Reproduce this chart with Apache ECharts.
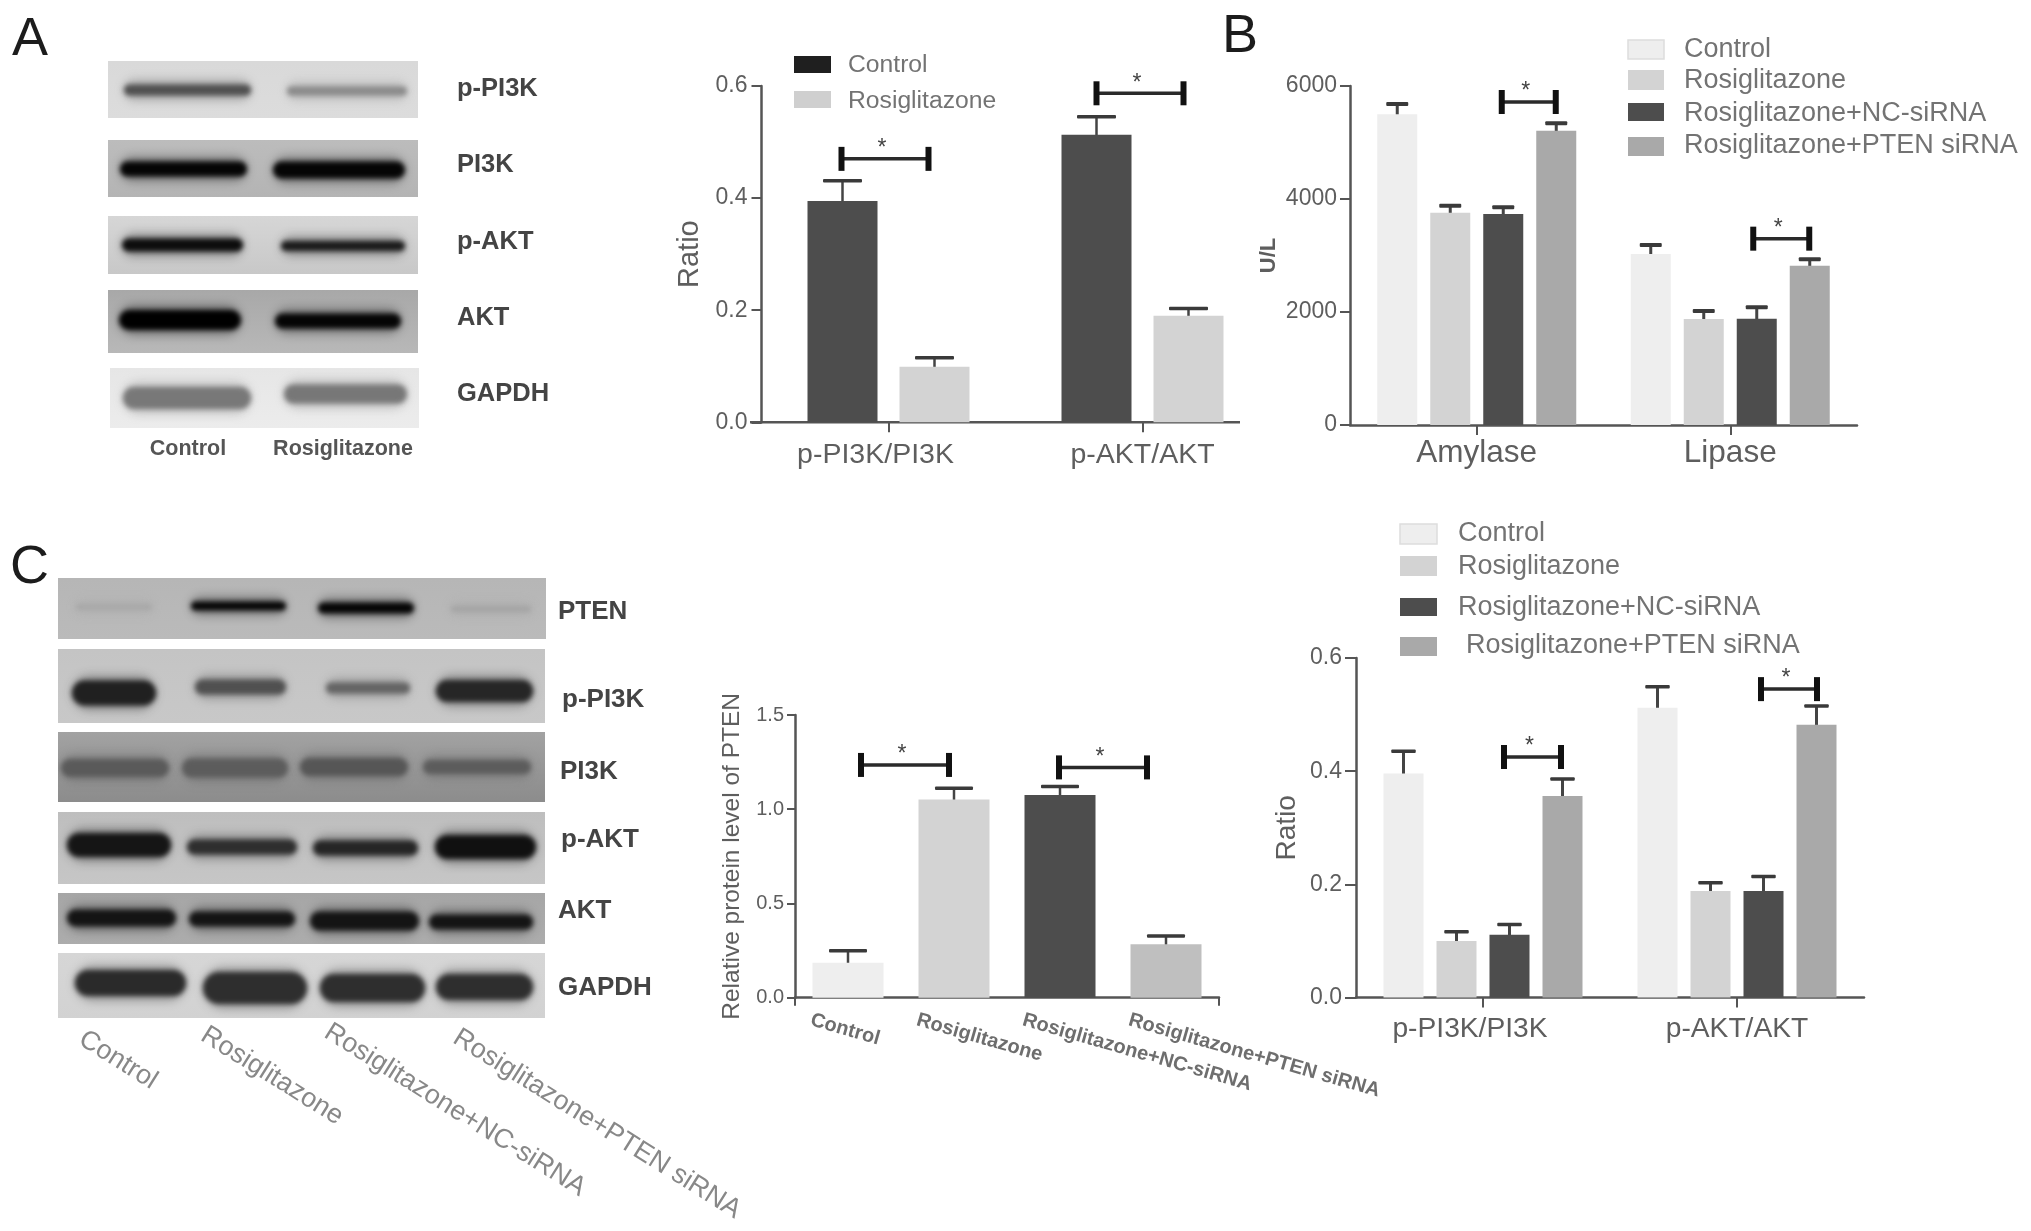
<!DOCTYPE html>
<html>
<head>
<meta charset="utf-8">
<style>html,body{margin:0;padding:0;background:#fff}#c{width:2031px;height:1231px;filter:blur(0.5px)}</style>
<script src="https://cdn.jsdelivr.net/npm/echarts@6/dist/echarts.min.js"></script>
</head>
<body>
<div id="c"></div>
<script>
// ---------- data ----------
const catsA = ['p-PI3K/PI3K', 'p-AKT/AKT'];
const namesA = ['Control', 'Rosiglitazone'];
const controlA = [0.395, 0.513];
const rosiA = [0.099, 0.190];
const controlTopA = [0.431, 0.545];
const rosiTopA = [0.115, 0.203];
const sigA = [0.470, 0.587];

const catsB = ['Amylase', 'Lipase'];
const namesB = ['Control', 'Rosiglitazone', 'Rosiglitazone+NC-siRNA', 'Rosiglitazone+PTEN siRNA'];
const controlB = [5498, 3027];
const rosiB = [3758, 1876];
const ncB = [3735, 1882];
const ptenB = [5209, 2820];
const controlTopB = [5681, 3186];
const rosiTopB = [3882, 2018];
const ncTopB = [3852, 2083];
const ptenTopB = [5339, 2932];
const sigB = [5717, 3298];

const catsC = ['Control', 'Rosiglitazone', 'Rosiglitazone+NC-siRNA', 'Rosiglitazone+PTEN siRNA'];
const ptenLevel = [0.186, 1.052, 1.075, 0.283];
const ptenLevelTop = [0.249, 1.111, 1.120, 0.327];
const sigC = [1.235, 1.222];

const catsD = ['p-PI3K/PI3K', 'p-AKT/AKT'];
const controlD = [0.396, 0.512];
const rosiD = [0.100, 0.188];
const ncD = [0.111, 0.188];
const ptenD = [0.356, 0.482];
const controlTopD = [0.435, 0.549];
const rosiTopD = [0.116, 0.203];
const ncTopD = [0.129, 0.214];
const ptenTopD = [0.386, 0.515];
const sigD = [0.425, 0.545];

// ---------- styles ----------
const FONT = '"Liberation Sans", Arial, sans-serif';
const C_CTRL = '#eeeeee', C_ROSI = '#d3d3d3', C_NC = '#4d4d4d', C_PTEN = '#a9a9a9';
const AXIS = '#555555', TEXT = '#5e5e5e', LEG = '#737373';

// ---------- blots, painted on a canvas used as a picture ----------
function paintBlots() {
  const cv = document.createElement('canvas');
  cv.width = 2031; cv.height = 1231;
  const g = cv.getContext('2d');
  const rows = [
    // panel A
    {r:[108,61,310,57], bg:['#d9d9d9','#dcdcdc'], b:[[124,251,90,11,'#505050'],[287,407,91,9,'#8a8a8a']]},
    {r:[108,140,310,57], bg:['#bcbcbc','#b4b4b4'], b:[[120,247,169,15,'#050505'],[273,405,170,17,'#050505']]},
    {r:[108,216,310,58], bg:['#d6d6d6','#c8c8c8'], b:[[122,243,245,13,'#0c0c0c'],[281,405,246,10,'#1a1a1a']]},
    {r:[108,290,310,63], bg:['#a8a8a8','#b8b8b8'], b:[[119,241,320,20,'#000000'],[275,401,321,15,'#050505']]},
    {r:[110,368,309,60], bg:['#e6e6e6','#ececec'], b:[[123,251,398,22,'#787878'],[284,407,394,19,'#777777']]},
    // panel C
    {r:[58,578,488,61], bg:['#b6b6b6','#bababa'], b:[[76,152,607,5,'#a6a6a6'],[191,286,606,9,'#050505'],[318,414,608,11,'#050505'],[451,531,609,5,'#a2a2a2']]},
    {r:[58,649,487,74], bg:['#c4c4c4','#c8c8c8'], b:[[72,156,693,25,'#202020'],[195,286,687,15,'#505050'],[326,410,688,11,'#646464'],[436,533,691,22,'#262626']]},
    {r:[58,732,487,70], bg:['#a2a2a2','#8c8c8c'], b:[[61,169,768,18,'#5a5a5a'],[182,288,768,19,'#5c5c5c'],[300,408,767,18,'#565656'],[423,531,767,14,'#5c5c5c']]},
    {r:[58,812,487,72], bg:['#bebebe','#c6c6c6'], b:[[67,171,845,24,'#151515'],[187,297,847,15,'#2e2e2e'],[313,418,848,15,'#252525'],[435,536,847,24,'#101010']]},
    {r:[58,893,487,51], bg:['#a6a6a6','#acacac'], b:[[67,176,918,17,'#141414'],[189,295,919,15,'#141414'],[310,419,921,19,'#141414'],[429,533,922,15,'#141414']]},
    {r:[58,953,487,65], bg:['#d6d6d6','#d2d2d2'], b:[[75,186,983,26,'#2a2a2a'],[203,307,988,32,'#2e2e2e'],[320,425,988,28,'#2e2e2e'],[436,533,987,26,'#2e2e2e']]}
  ];
  rows.forEach(row => {
    const [x, y, w, h] = row.r;
    g.save();
    g.beginPath(); g.rect(x, y, w, h); g.clip();
    const lg = g.createLinearGradient(0, y, 0, y + h);
    lg.addColorStop(0, row.bg[0]); lg.addColorStop(1, row.bg[1]);
    g.fillStyle = lg; g.fillRect(x, y, w, h);
    const band = (b, grow, blur, alpha) => {
      const t = b[3] + grow;
      g.filter = 'blur(' + blur + 'px)';
      g.globalAlpha = alpha;
      g.fillStyle = b[4];
      g.beginPath();
      g.roundRect(b[0], b[2] - t / 2, b[1] - b[0], t, t / 2);
      g.fill();
    };
    row.b.forEach(b => { band(b, 10, 5, 0.35); band(b, 0, 2.5, 1); });
    g.restore();
  });
  return cv;
}

// ---------- helpers ----------
function gridOf(left, top, width, height) { return {left, top, width, height, containLabel:false}; }

function xAxisOf(i, data, fs, margin, showLine, tickLen) {
  return {
    type:'category', gridIndex:i, data,
    axisLine:{show:showLine, lineStyle:{color:AXIS, width:2.5}},
    axisTick:{show:true, alignWithLabel:true, length:tickLen, lineStyle:{color:AXIS, width:2}},
    axisLabel:{fontSize:fs, color:TEXT, margin, fontFamily:FONT, interval:0}
  };
}
function yAxisOf(i, max, interval, name, fs, nameFs, nameGap, nameWeight, fmt, margin, tickLen) {
  return {
    type:'value', gridIndex:i, min:0, max, interval, name, nameLocation:'middle', nameGap, nameRotate:90,
    nameMoveOverlap:false,
    nameTextStyle:{fontSize:nameFs, color:TEXT, fontFamily:FONT, fontWeight:nameWeight},
    splitLine:{show:false},
    axisLine:{show:true, lineStyle:{color:AXIS, width:2.5}},
    axisTick:{show:true, length:tickLen, lineStyle:{color:AXIS, width:2}},
    axisLabel:{fontSize:fs, color:TEXT, margin, fontFamily:FONT, formatter:fmt}
  };
}
function barSeries(i, name, data, color, barWidth, barGap) {
  return {type:'bar', name, xAxisIndex:i, yAxisIndex:i, data, barWidth, barGap, itemStyle:{color}, silent:true};
}
// error bars: each point is [category, mean, top]
function errSeries(i, tops, means, offset, capW, capT, stemT) {
  return {
    type:'custom', xAxisIndex:i, yAxisIndex:i, silent:true, clip:false,
    data: tops.map((t, k) => [k, means[k], t]),
    renderItem(p, api) {
      const a = api.coord([api.value(0), api.value(1)]);
      const b = api.coord([api.value(0), api.value(2)]);
      const x = a[0] + offset;
      return {type:'group', children:[
        {type:'rect', shape:{x:x - stemT / 2, y:b[1], width:stemT, height:a[1] - b[1] + 3}, style:{fill:'#444444'}},
        {type:'rect', shape:{x:x - capW / 2, y:b[1] - capT / 2, width:capW, height:capT, r:1}, style:{fill:'#3a3a3a'}}
      ]};
    }
  };
}
// significance bracket: value in the axis scale, horizontal extent from layout
function sigSeries(i, cats, vals, extents, capH) {
  return {
    type:'custom', xAxisIndex:i, yAxisIndex:i, silent:true, clip:false,
    data: vals.map((v, k) => [cats[k], v, k]),
    renderItem(p, api) {
      const c = api.coord([api.value(0), api.value(1)]);
      const e = extents[api.value(2)];
      const l = c[0] + e[0], r = c[0] + e[1], y = c[1];
      return {type:'group', children:[
        {type:'rect', shape:{x:l, y:y - 1.75, width:r - l, height:3.5}, style:{fill:'#2a2a2a'}},
        {type:'rect', shape:{x:l - 3, y:y - capH / 2, width:6, height:capH}, style:{fill:'#111111'}},
        {type:'rect', shape:{x:r - 3, y:y - capH / 2, width:6, height:capH}, style:{fill:'#111111'}},
        {type:'text', x:(l + r) / 2 - 3, y:y - 10, style:{text:'*', fontSize:23, fill:'#444444', align:'center', verticalAlign:'middle', fontFamily:FONT}}
      ]};
    }
  };
}
// slanted category names of the PTEN panel, anchored on each category through the scale
function slantSeries(i, names, dx, dy, angle, fs) {
  return {
    type:'custom', xAxisIndex:i, yAxisIndex:i, silent:true, clip:false,
    data: names.map((n, k) => [k, 0]),
    renderItem(p, api) {
      const c = api.coord([api.value(0), 0]);
      return {type:'text', x:c[0] + dx, y:c[1] + dy, rotation:-angle * Math.PI / 180,
        style:{text:names[api.value(0)], fontSize:fs, fontWeight:'bold', fill:'#6e6e6e', align:'left', verticalAlign:'middle', fontFamily:FONT}};
    }
  };
}
function txt(text, x, y, fontSize, fill, extra) {
  const e = extra || {};
  return {type:'text', x, y, rotation:e.rot || 0, silent:true,
    style:{text, fontSize, fill, fontWeight:e.weight || 'normal', align:e.align || 'left', verticalAlign:'middle', fontFamily:FONT}};
}
function swatch(x, y, w, h, fill, stroke) {
  return {type:'rect', silent:true, shape:{x, y, width:w, height:h},
    style:{fill, stroke:stroke || null, lineWidth:stroke ? 1.5 : 0}};
}

// ---------- layout ----------
const W_A = 70, GAP_A = 22, W_B = 40, GAP_B = 13;
const off2 = [-(W_A + GAP_A) / 2, (W_A + GAP_A) / 2];
const off4 = [-1.5, -0.5, 0.5, 1.5].map(k => k * (W_B + GAP_B));

const grid = [
  gridOf(761.5, 86, 508, 336.3),
  gridOf(1350, 86, 507, 339),
  gridOf(795, 715, 424, 282.7),
  gridOf(1356, 658, 508, 339.5)
];
const xAxis = [
  xAxisOf(0, [{value:catsA[0], textStyle:{padding:[0,26,0,0]}}, catsA[1]], 28.5, 18, false, 10),
  xAxisOf(1, catsB, 31.5, 12, true, 10),
  xAxisOf(2, catsC, 12, 8, true, 8),
  xAxisOf(3, [{value:catsD[0], textStyle:{padding:[0,26,0,0]}}, catsD[1]], 28.2, 18, true, 10)
];
xAxis[2].axisLabel.show = false;
xAxis[2].axisTick = {show:true, alignWithLabel:false, interval:(idx) => idx === 2, length:8, lineStyle:{color:AXIS, width:2}};

const yAxis = [
  yAxisOf(0, 0.6, 0.2, 'Ratio', 23, 29, 57, 'normal', v => v.toFixed(1), 14, 10),
  yAxisOf(1, 6000, 2000, 'U/L', 23, 22, 70, 'bold', v => String(v), 13, 10),
  yAxisOf(2, 1.5, 0.5, 'Relative protein level of PTEN', 20, 24.5, 50, 'normal', v => v.toFixed(1), 11, 8),
  yAxisOf(3, 0.6, 0.2, 'Ratio', 23, 28, 55, 'normal', v => v.toFixed(1), 14, 11)
];

const series = [
  barSeries(0, namesA[0], controlA, C_NC, W_A, (GAP_A / W_A * 100) + '%'),
  barSeries(0, namesA[1], rosiA, C_ROSI, W_A, (GAP_A / W_A * 100) + '%'),
  errSeries(0, controlTopA, controlA, off2[0], 39, 3.5, 2.5),
  errSeries(0, rosiTopA, rosiA, off2[1], 39, 3.5, 2.5),
  sigSeries(0, [0, 1], sigA, [[-47, 40], [-46, 41]], 24),

  barSeries(1, namesB[0], controlB, C_CTRL, W_B, (GAP_B / W_B * 100) + '%'),
  barSeries(1, namesB[1], rosiB, C_ROSI, W_B, (GAP_B / W_B * 100) + '%'),
  barSeries(1, namesB[2], ncB, C_NC, W_B, (GAP_B / W_B * 100) + '%'),
  barSeries(1, namesB[3], ptenB, C_PTEN, W_B, (GAP_B / W_B * 100) + '%'),
  errSeries(1, controlTopB, controlB, off4[0], 22, 4, 3),
  errSeries(1, rosiTopB, rosiB, off4[1], 22, 4, 3),
  errSeries(1, ncTopB, ncB, off4[2], 22, 4, 3),
  errSeries(1, ptenTopB, ptenB, off4[3], 22, 4, 3),
  sigSeries(1, [0, 1], sigB, [[25, 79], [23, 79]], 24),

  {type:'bar', name:'PTEN', xAxisIndex:2, yAxisIndex:2, barWidth:71, silent:true,
    data: ptenLevel.map((v, k) => ({value:v, itemStyle:{color:[C_CTRL, C_ROSI, C_NC, '#bfbfbf'][k]}}))},
  errSeries(2, ptenLevelTop, ptenLevel, 0, 38, 3.5, 2.5),
  sigSeries(2, [0, 2], sigC, [[13, 101], [-1, 87]], 24),
  slantSeries(2, catsC, -37, 22, 16, 20),

  barSeries(3, namesB[0], controlD, C_CTRL, W_B, (GAP_B / W_B * 100) + '%'),
  barSeries(3, namesB[1], rosiD, C_ROSI, W_B, (GAP_B / W_B * 100) + '%'),
  barSeries(3, namesB[2], ncD, C_NC, W_B, (GAP_B / W_B * 100) + '%'),
  barSeries(3, namesB[3], ptenD, C_PTEN, W_B, (GAP_B / W_B * 100) + '%'),
  errSeries(3, controlTopD, controlD, off4[0], 24.5, 3.5, 3),
  errSeries(3, rosiTopD, rosiD, off4[1], 24.5, 3.5, 3),
  errSeries(3, ncTopD, ncD, off4[2], 24.5, 3.5, 3),
  errSeries(3, ptenTopD, ptenD, off4[3], 24.5, 3.5, 3),
  sigSeries(3, [0, 1], sigD, [[21, 78], [24, 80]], 24)
];

const DARK = '#444444', B = {weight:'bold'};
const slant = {rot:-32 * Math.PI / 180, align:'center'};
const graphic = [
  {type:'image', silent:true, style:{image:paintBlots(), x:0, y:0, width:2031, height:1231}},
  // axis line of the first panel stops short of the category bands
  {type:'line', silent:true, shape:{x1:750, y1:422.3, x2:1240, y2:422.3}, style:{stroke:AXIS, lineWidth:2.5}},
  // panel letters
  txt('A', 12, 40, 54, '#1c1c1c'), txt('B', 1222, 37, 54, '#1c1c1c'), txt('C', 10, 568, 54, '#1c1c1c'),
  // panel A blot labels
  txt('p-PI3K', 457, 89, 25.5, DARK, B), txt('PI3K', 457, 165, 25.5, DARK, B), txt('p-AKT', 457, 242, 25.5, DARK, B),
  txt('AKT', 457, 318, 25.5, DARK, B), txt('GAPDH', 457, 394, 25.5, DARK, B),
  txt('Control', 188, 449, 21.5, '#555555', {weight:'bold', align:'center'}),
  txt('Rosiglitazone', 343, 449, 21.5, '#555555', {weight:'bold', align:'center'}),
  // panel A legend
  swatch(794, 56, 37, 17, '#1f1f1f'), swatch(794, 91, 37, 17, '#cfcfcf'),
  txt(namesA[0], 848, 65, 24.7, LEG), txt(namesA[1], 848, 101, 24.7, LEG),
  // panel B legend
  swatch(1628, 40, 36, 19, C_CTRL, '#dddddd'), swatch(1628, 70, 36, 20, C_ROSI),
  swatch(1628, 103, 36, 18, C_NC), swatch(1628, 137, 36, 19, C_PTEN),
  txt(namesB[0], 1684, 50, 27, LEG), txt(namesB[1], 1684, 81, 27, LEG),
  txt(namesB[2], 1684, 114, 27, LEG), txt(namesB[3], 1684, 146, 27, LEG),
  // panel C blot labels
  txt('PTEN', 558, 612, 26, DARK, B), txt('p-PI3K', 562, 700, 26, DARK, B), txt('PI3K', 560, 772, 26, DARK, B),
  txt('p-AKT', 561, 840, 26, DARK, B), txt('AKT', 558, 911, 26, DARK, B), txt('GAPDH', 558, 988, 26, DARK, B),
  txt(catsC[0], 118, 1060, 27, '#888888', slant), txt(catsC[1], 272, 1076, 27, '#888888', slant),
  txt(catsC[2], 455, 1110, 27, '#888888', slant), txt(catsC[3], 597, 1124, 27, '#888888', slant),
  // panel D legend
  swatch(1400, 524, 37, 20, C_CTRL, '#dddddd'), swatch(1400, 556, 37, 20, C_ROSI),
  swatch(1400, 598, 37, 18, C_NC), swatch(1400, 637, 37, 19, C_PTEN),
  txt(namesB[0], 1458, 534, 27, LEG), txt(namesB[1], 1458, 567, 27, LEG),
  txt(namesB[2], 1458, 608, 27, LEG), txt(namesB[3], 1466, 646, 27, LEG)
];

const chart = echarts.init(document.getElementById('c'), null, {renderer:'canvas'});
chart.setOption({
  animation:false,
  backgroundColor:'#ffffff',
  textStyle:{fontFamily:FONT},
  grid, xAxis, yAxis, series, graphic
});
</script>
</body>
</html>
